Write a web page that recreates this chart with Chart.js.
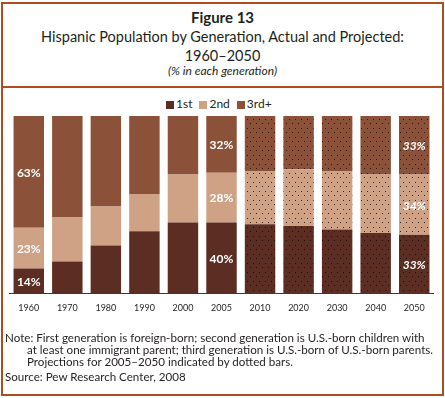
<!DOCTYPE html>
<html>
<head>
<meta charset="utf-8">
<script src="https://cdn.jsdelivr.net/npm/chart.js@4/dist/chart.umd.min.js"></script>
<style>
  body { margin: 0; background: #fff; }
  #wrap { position: relative; width: 445px; height: 398px; overflow: hidden; font-family: Lato, sans-serif; color: #231f20; }
  #frame { position: absolute; left: 1px; top: 2px; width: 439px; height: 390px; border: 2px solid #b14c1d; }
  #sep { position: absolute; left: 1px; top: 86px; width: 443px; height: 2px; background: #b14c1d; }
  #chart { position: absolute; left: 0; top: 0; }
  .t { position: absolute; left: 0; width: 445px; text-align: center; white-space: nowrap; }
  .note { position: absolute; left: 5px; font-size: 11.6px; line-height: 12.3px; white-space: nowrap; }
  .ind { left: 27px; }
  #legend { position: absolute; left: 166px; top: 97.4px; display: flex; gap: 7px; font-size: 12px; line-height: 14px; }
  #legend .item { display: flex; align-items: center; }
  #legend .box { width: 8px; height: 8px; margin-right: 2px; margin-top: 2px; }
</style>
</head>
<body>
<div id="wrap">
  <div id="frame"></div>
  <div id="sep"></div>
  <div class="t" style="top:8.6px;font-size:15px;line-height:16px;font-weight:bold;">Figure 13</div>
  <div class="t" style="top:26.6px;font-size:14.5px;line-height:19px;">Hispanic Population by Generation, Actual and Projected:<br>1960–2050</div>
  <div class="t" style="top:64.7px;font-size:12px;line-height:12px;font-style:italic;">(% in each generation)</div>
  <div id="legend"></div>
  <canvas id="chart" width="445" height="398"></canvas>
  <div class="note" style="top:331.5px">Note: First generation is foreign-born; second generation is U.S.-born children with</div>
  <div class="note ind" style="top:343.8px">at least one immigrant parent; third generation is U.S.-born of U.S.-born parents.</div>
  <div class="note ind" style="top:356.1px">Projections for 2005–2050 indicated by dotted bars.</div>
  <div class="note" style="top:371px">Source: Pew Research Center, 2008</div>
</div>
<script>
const years = ['1960', '1970', '1980', '1990', '2000', '2005', '2010', '2020', '2030', '2040', '2050'];
const seriesNames = ['1st', '2nd', '3rd+'];
const seriesColors = ['#5c2d22', '#cfa286', '#8c5139'];
const firstGen = [14, 18, 27, 35, 40, 40, 39, 38, 36, 34, 33];
const secondGen = [23, 25, 22, 21, 27, 28, 30, 32, 33, 33, 34];
const thirdGen = [63, 57, 51, 44, 33, 32, 31, 30, 31, 33, 33];
const projected = [false, false, false, false, false, false, true, true, true, true, true];
const labeledYears = ['1960', '2005', '2050'];

function dotted(color) {
    const c = document.createElement('canvas');
    c.width = 6;
    c.height = 9;
    const g = c.getContext('2d');
    g.fillStyle = color;
    g.fillRect(0, 0, 6, 9);
    g.fillStyle = 'rgba(20, 10, 5, 0.8)';
    g.fillRect(1, 2, 1, 1);
    g.fillRect(4, 6, 1, 1);
    return g.createPattern(c, 'repeat');
}

function fillFor(color) {
    const pat = dotted(color);
    return (ctx) => projected[ctx.dataIndex] ? pat : color;
}

// legend as plain html so it can sit closer to the bars than chart.js allows
document.getElementById('legend').innerHTML = seriesNames.map((n, i) =>
    `<span class="item"><span class="box" style="background:${seriesColors[i]}"></span>${n}</span>`).join('');

const valueLabels = {
    id: 'valueLabels',
    afterDatasetsDraw(chart) {
        const ctx = chart.ctx;
        chart.data.datasets.forEach((ds, di) => {
            chart.getDatasetMeta(di).data.forEach((bar, i) => {
                if (!labeledYears.includes(years[i])) return;
                const p = bar.getProps(['x', 'y', 'base'], true);
                ctx.save();
                ctx.font = (projected[i] ? 'italic ' : '') + 'bold 12px Lato';
                ctx.fillStyle = '#fff';
                ctx.textAlign = 'center';
                ctx.textBaseline = 'middle';
                ctx.fillText(ds.data[i] + '%', p.x, (p.y + p.base) / 2 + 1);
                ctx.restore();
            });
        });
    }
};

new Chart(document.getElementById('chart').getContext('2d'), {
    type: 'bar',
    data: {
        labels: years,
        datasets: [
            { label: seriesNames[0], data: firstGen, backgroundColor: fillFor(seriesColors[0]) },
            { label: seriesNames[1], data: secondGen, backgroundColor: fillFor(seriesColors[1]) },
            { label: seriesNames[2], data: thirdGen, backgroundColor: fillFor(seriesColors[2]) }
        ]
    },
    options: {
        responsive: false,
        animation: false,
        datasets: { bar: { barPercentage: 0.79, categoryPercentage: 1 } },
        layout: { padding: { left: 9.5, right: 11.5, top: 116, bottom: 74.9 } },
        plugins: {
            legend: { display: false },
            tooltip: { enabled: false }
        },
        scales: {
            x: {
                stacked: true,
                grid: { display: false, drawTicks: false },
                border: { color: '#3a3a3a', width: 1 },
                ticks: { color: '#231f20', font: { family: 'Lato', size: 9 }, padding: 9.5 }
            },
            y: { stacked: true, display: false, min: 0, max: 100 }
        }
    },
    plugins: [valueLabels]
});
</script>
</body>
</html>
